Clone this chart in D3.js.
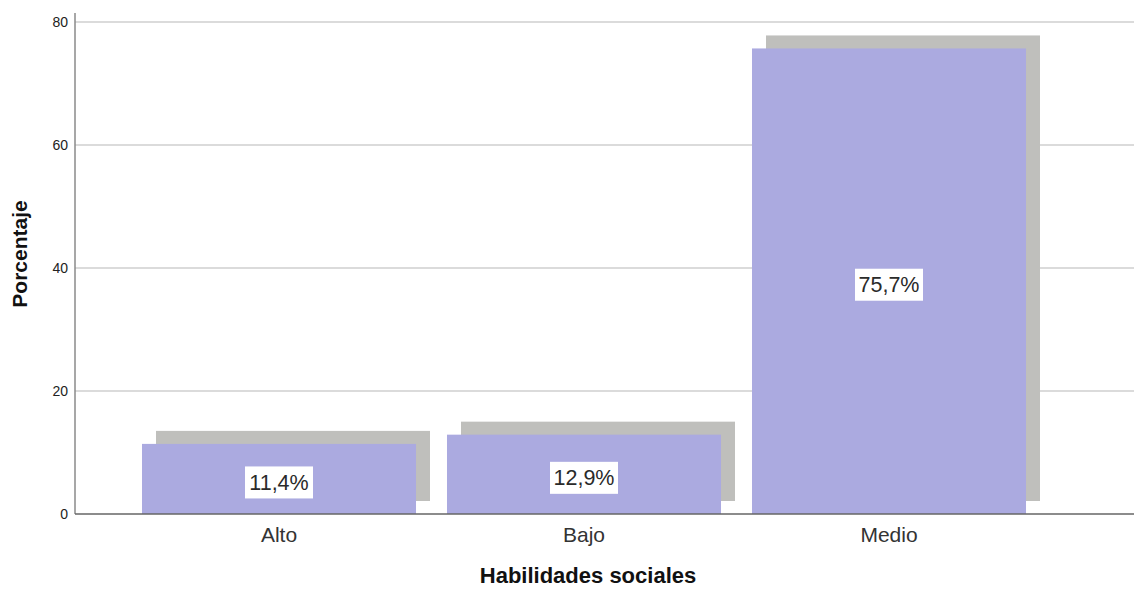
<!DOCTYPE html>
<html>
<head>
<meta charset="utf-8">
<script src="https://cdn.jsdelivr.net/npm/d3@7"></script>
<style>
  html, body { margin: 0; padding: 0; background: #fff; }
  svg { display: block; }
</style>
</head>
<body>
<svg id="chart" width="1134" height="589"></svg>
<script>
const categories = ["Alto", "Bajo", "Medio"];
const percentages = [11.4, 12.9, 75.7];
const valueLabels = ["11,4%", "12,9%", "75,7%"];
const yTicks = [0, 20, 40, 60, 80];
const xTitle = "Habilidades sociales";
const yTitle = "Porcentaje";

(function () {
const mLeft = 75, mRight = 1134, mTop = 13, mBottom = 514;
const svg = d3.select("#chart");

const y = d3.scaleLinear().domain([0, 80]).range([mBottom, 22]);
const x = d3.scaleBand().domain(categories)
  .range([126.5, 1041.5]).paddingInner(0.1016).paddingOuter(0.0508);

// gridlines
svg.append("g").selectAll("line").data(yTicks.filter(d => d > 0)).join("line")
  .attr("x1", mLeft).attr("x2", mRight)
  .attr("y1", d => y(d)).attr("y2", d => y(d))
  .attr("stroke", "#cfcfcf").attr("stroke-width", 1.5);

const shadowOff = 14;
const rows = categories.map((c, i) => ({c, v: percentages[i], lab: valueLabels[i]}));

// shadows
svg.append("g").selectAll("rect").data(rows).join("rect")
  .attr("x", d => x(d.c) + shadowOff)
  .attr("y", d => y(d.v) - shadowOff + 1)
  .attr("width", x.bandwidth())
  .attr("height", d => y(0) - y(d.v))
  .attr("fill", "#bfbfbc");

// bars
svg.append("g").selectAll("rect").data(rows).join("rect")
  .attr("x", d => x(d.c))
  .attr("y", d => y(d.v))
  .attr("width", x.bandwidth())
  .attr("height", d => y(0) - y(d.v))
  .attr("fill", "#abaae0");

// value labels
const lg = svg.append("g").selectAll("g").data(rows).join("g")
  .attr("transform", d => `translate(${x(d.c) + x.bandwidth() / 2},${(y(d.v) + y(0)) / 2 + 3.5})`);
lg.append("rect").attr("x", -34).attr("y", -16).attr("width", 68).attr("height", 32).attr("fill", "#fff");
lg.append("text").attr("text-anchor", "middle").attr("dy", "0.35em")
  .attr("font-family", "Arial, 'Liberation Sans', sans-serif").attr("font-size", 21.5)
  .attr("fill", "#2a2a2a").text(d => d.lab);

// y axis
const yAxis = d3.axisLeft(y).tickValues(yTicks).tickSize(0).tickPadding(7);
const ga = svg.append("g").attr("transform", `translate(${mLeft},0)`).call(yAxis);
ga.select(".domain").remove();
ga.selectAll("text").attr("font-family", "Arial, 'Liberation Sans', sans-serif")
  .attr("font-size", 14).attr("fill", "#222");
svg.append("line").attr("x1", mLeft).attr("x2", mLeft).attr("y1", mTop).attr("y2", mBottom)
  .attr("stroke", "#8a8a8a").attr("stroke-width", 1.5);

// x axis
const xAxis = d3.axisBottom(x).tickSize(0).tickPadding(13);
const gx = svg.append("g").attr("transform", `translate(0,${mBottom})`).call(xAxis);
gx.select(".domain").remove();
gx.selectAll("text").attr("font-family", "Arial, 'Liberation Sans', sans-serif")
  .attr("font-size", 21).attr("fill", "#333");
svg.append("line").attr("x1", mLeft).attr("x2", mRight).attr("y1", mBottom).attr("y2", mBottom)
  .attr("stroke", "#666").attr("stroke-width", 1.5);

// titles
svg.append("text").attr("x", 588).attr("y", 583).attr("text-anchor", "middle")
  .attr("font-family", "Arial, 'Liberation Sans', sans-serif").attr("font-weight", "bold")
  .attr("font-size", 22).attr("fill", "#111").text(xTitle);
svg.append("text").attr("transform", "translate(27,254) rotate(-90)").attr("text-anchor", "middle")
  .attr("font-family", "Arial, 'Liberation Sans', sans-serif").attr("font-weight", "bold")
  .attr("font-size", 21).attr("fill", "#111").text(yTitle);
})();
</script>
</body>
</html>
